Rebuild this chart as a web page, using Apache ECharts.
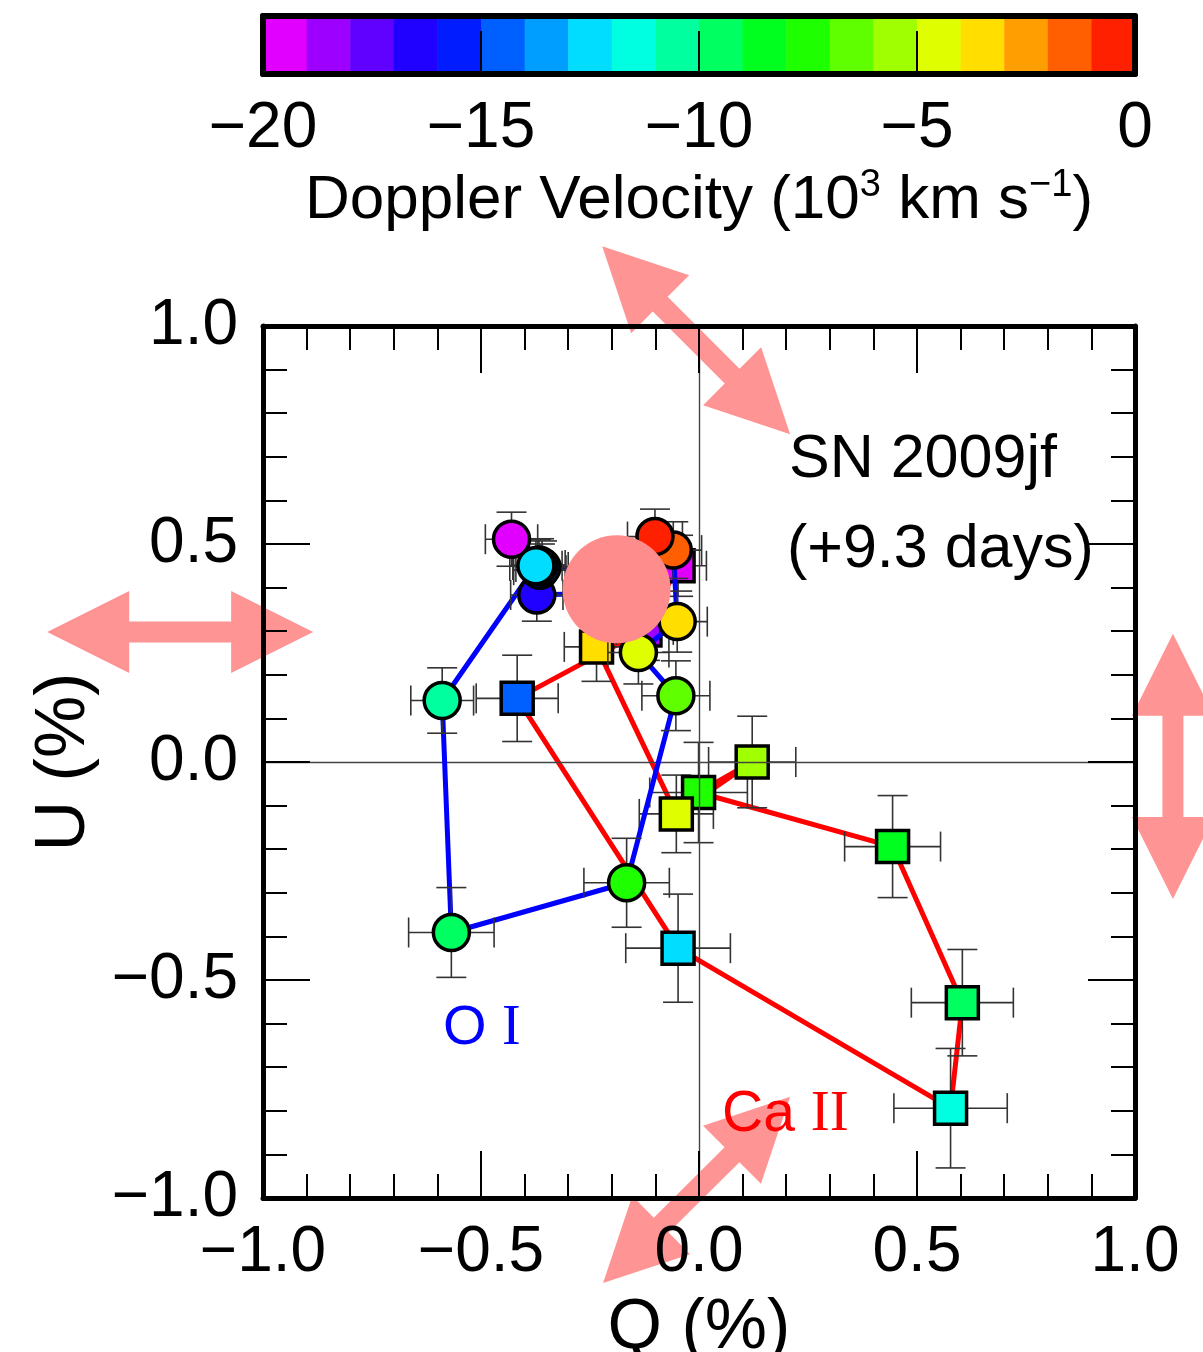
<!DOCTYPE html>
<html><head><meta charset="utf-8">
<script src="https://cdn.jsdelivr.net/npm/echarts@6.0.0/dist/echarts.min.js"></script>
<style>html,body{margin:0;padding:0;background:#fff}#c{width:1203px;height:1352px}</style>
</head><body><div id="c"></div>
<script>
const FONT = '"Liberation Sans", Arial, Helvetica, sans-serif';
const SERIF = '"Liberation Serif", "Times New Roman", serif';

// ---- colour bar (Doppler velocity, 10^3 km/s) ----
const colorbarEdges = [-20,-19,-18,-17,-16,-15,-14,-13,-12,-11,-10,-9,-8,-7,-6,-5,-4,-3,-2,-1,0];
const colorbarColors = ['#e100ff','#9d00ff','#6000ff','#2000ff','#001cff','#0060ff','#009eff','#00ddff','#00ffe0','#00ff9f',
                        '#00ff60','#00ff1e','#1eff00','#5fff00','#a0ff00','#dfff00','#ffde00','#ff9e00','#ff5f00','#ff2000'];
const velocityTicks = [-20,-15,-10,-5,0];
const quTicks = [-1.0,-0.5,0.0,0.5,1.0];

// ---- O I (circles) ----
const oiVelocity = [-19.5,-18.5,-16.5,-15.5,-14.5,-13.5,-12.5,-10.5,-9.5,-7.5,-6.5,-4.5,-3.5,-1.5,-0.5];
const oiQ    = [-0.430,-0.200,-0.372,-0.365,-0.360,-0.367,-0.374,-0.589,-0.568,-0.166,-0.053,-0.139,-0.050,-0.059,-0.101];
const oiU    = [ 0.511, 0.388, 0.383, 0.440, 0.447, 0.452, 0.450, 0.141,-0.391,-0.277, 0.152, 0.251, 0.322, 0.486, 0.517];
const oiQErr = [ 0.060, 0.060, 0.060, 0.060, 0.060, 0.060, 0.060, 0.072, 0.098, 0.098, 0.078, 0.070, 0.069, 0.065, 0.063];
const oiUErr = [ 0.062, 0.060, 0.060, 0.060, 0.060, 0.060, 0.060, 0.075, 0.103, 0.102, 0.080, 0.072, 0.070, 0.065, 0.063];

// ---- Ca II (squares) ----
const caVelocity = [-19.5,-18.5,-14.5,-12.5,-11.5,-9.5,-8.5,-7.5,-5.5,-4.5,-3.5];
const caQ    = [-0.048,-0.124,-0.417,-0.048, 0.577, 0.604, 0.444,-0.001, 0.122,-0.052,-0.235];
const caU    = [ 0.450, 0.303, 0.146,-0.427,-0.794,-0.552,-0.194,-0.070, 0.000,-0.119, 0.264];
const caQErr = [ 0.065, 0.065, 0.094, 0.120, 0.130, 0.117, 0.110, 0.112, 0.100, 0.085, 0.074];
const caUErr = [ 0.070, 0.070, 0.099, 0.124, 0.137, 0.122, 0.117, 0.115, 0.105, 0.089, 0.079];

// ---- interstellar polarization marker ----
const ispQ = [-0.189];
const ispU = [0.396];

// ---- polarization-angle arrows (ends in Q/U units) ----
const angleArrows = [
  [[-0.222, 1.183], [0.209, 0.752]],
  [[-1.495, 0.298], [-0.885, 0.298]],
  [[1.087, 0.294], [1.087, -0.314]],
  [[-0.220, -1.195], [0.209, -0.768]]
];

function velColor(v) {
  let i = Math.floor(v - colorbarEdges[0]);
  i = Math.max(0, Math.min(colorbarColors.length - 1, i));
  return colorbarColors[i];
}
function fmt1(v) { return (v < 0 ? '\u2212' : '') + Math.abs(v).toFixed(1); }
function fmt0(v) { return (v < 0 ? '\u2212' : '') + Math.abs(v).toFixed(0); }

const chart = echarts.init(document.getElementById('c'), null, {renderer: 'canvas'});

const axisLineStyle = {color: '#000', width: 5};
const tickStyle = {color: '#000', width: 2};
const labelStyle = {fontSize: 64, fontFamily: FONT, color: '#000'};
const nameStyle = {fontSize: 70, fontFamily: FONT, color: '#000'};

function mainX(pos, showLabel) {
  return {
    gridIndex: 0, type: 'value', min: -1, max: 1, interval: 0.5, position: pos, z: 20,
    axisLine: {show: true, onZero: false, lineStyle: axisLineStyle},
    axisTick: {show: true, inside: true, length: 47, lineStyle: tickStyle},
    minorTick: {show: true, splitNumber: 5, length: 24, lineStyle: tickStyle},
    splitLine: {show: false},
    axisLabel: Object.assign({show: showLabel, margin: 23, formatter: fmt1, showMinLabel: true, showMaxLabel: true}, labelStyle),
    name: showLabel ? 'Q (%)' : '', nameLocation: 'middle', nameGap: 96,
    nameTextStyle: nameStyle
  };
}
function mainY(pos, showLabel) {
  return {
    gridIndex: 0, type: 'value', min: -1, max: 1, interval: 0.5, position: pos, z: 20,
    axisLine: {show: true, onZero: false, lineStyle: axisLineStyle},
    axisTick: {show: true, inside: true, length: 47, lineStyle: tickStyle},
    minorTick: {show: true, splitNumber: 5, length: 24, lineStyle: tickStyle},
    splitLine: {show: false},
    axisLabel: Object.assign({show: showLabel, margin: 25, formatter: fmt1, showMinLabel: true, showMaxLabel: true}, labelStyle),
    name: showLabel ? 'U (%)' : '', nameLocation: 'middle', nameGap: 163,
    nameTextStyle: nameStyle
  };
}

function errorBars(q, u, qe, ue, z) {
  return {
    type: 'custom', xAxisIndex: 0, yAxisIndex: 0, z: z, silent: true,
    encode: {x: 0, y: 1},
    data: q.map((v, i) => [v, u[i], qe[i], ue[i]]),
    renderItem: function (params, api) {
      const x = api.value(0), y = api.value(1), ex = api.value(2), ey = api.value(3);
      const c = api.coord([x, y]);
      const l = api.coord([x - ex, y]), r = api.coord([x + ex, y]);
      const t = api.coord([x, y + ey]), b = api.coord([x, y - ey]);
      const cap = 15;
      const st = {stroke: '#333', lineWidth: 1.6, fill: null};
      const ln = (x1, y1, x2, y2) => ({type: 'line', shape: {x1, y1, x2, y2}, style: st});
      return {type: 'group', children: [
        ln(l[0], c[1], r[0], c[1]), ln(c[0], t[1], c[0], b[1]),
        ln(l[0], c[1] - cap, l[0], c[1] + cap), ln(r[0], c[1] - cap, r[0], c[1] + cap),
        ln(c[0] - cap, t[1], c[0] + cap, t[1]), ln(c[0] - cap, b[1], c[0] + cap, b[1])
      ]};
    }
  };
}

const option = {
  animation: false,
  backgroundColor: '#fff',
  grid: [
    {left: 263, top: 326, width: 872, height: 872, containLabel: false, outerBoundsMode: 'none'},
    {left: 263, top: 16, width: 872, height: 58, containLabel: false, outerBoundsMode: 'none'}
  ],
  xAxis: [
    mainX('bottom', true),
    mainX('top', false),
    {
      gridIndex: 1, type: 'value', min: -20, max: 0, interval: 5, position: 'bottom', z: 20,
      axisLine: {show: true, onZero: false, lineStyle: {color: '#000', width: 6}},
      axisTick: {show: true, inside: true, length: 43, lineStyle: tickStyle},
      splitLine: {show: false},
      axisLabel: Object.assign({margin: 23, formatter: fmt0, showMinLabel: true, showMaxLabel: true}, labelStyle)
    },
    {
      gridIndex: 1, type: 'value', min: -20, max: 0, position: 'top', z: 20,
      axisLine: {show: true, onZero: false, lineStyle: {color: '#000', width: 6}},
      axisTick: {show: false}, axisLabel: {show: false}, splitLine: {show: false}
    }
  ],
  yAxis: [
    mainY('left', true),
    mainY('right', false),
    {
      gridIndex: 1, type: 'value', min: 0, max: 1, position: 'left', z: 20,
      axisLine: {show: true, onZero: false, lineStyle: {color: '#000', width: 6}},
      axisTick: {show: false}, axisLabel: {show: false}, splitLine: {show: false}
    },
    {
      gridIndex: 1, type: 'value', min: 0, max: 1, position: 'right', z: 20,
      axisLine: {show: true, onZero: false, lineStyle: {color: '#000', width: 6}},
      axisTick: {show: false}, axisLabel: {show: false}, splitLine: {show: false}
    }
  ],
  series: [
    {
      type: 'custom', xAxisIndex: 2, yAxisIndex: 2, z: 2, silent: true,
      encode: {x: [0, 1], y: 2},
      data: colorbarColors.map((c, i) => [colorbarEdges[i], colorbarEdges[i + 1], i]),
      renderItem: function (params, api) {
        const a = api.coord([api.value(0), 1]);
        const b = api.coord([api.value(1), 0]);
        return {type: 'rect', shape: {x: a[0], y: a[1], width: b[0] - a[0] + 0.5, height: b[1] - a[1]},
                style: {fill: colorbarColors[api.value(2)]}};
      }
    },
    {
      name: 'Ca II path', type: 'line', xAxisIndex: 0, yAxisIndex: 0, z: 2,
      data: caQ.map((q, i) => [q, caU[i]]),
      showSymbol: false, symbol: 'none',
      lineStyle: {color: '#ff0000', width: 5},
      markLine: {
        silent: true, symbol: ['none', 'none'], label: {show: false},
        lineStyle: {color: '#444', width: 1.4, type: 'solid'},
        data: [{xAxis: 0}, {yAxis: 0}]
      }
    },
    errorBars(caQ, caU, caQErr, caUErr, 3),
    {
      name: 'Ca II', type: 'scatter', xAxisIndex: 0, yAxisIndex: 0, z: 4,
      symbol: 'rect', symbolSize: 32,
      data: caQ.map((q, i) => ({value: [q, caU[i]], itemStyle: {color: velColor(caVelocity[i])}})),
      itemStyle: {borderColor: '#000', borderWidth: 3.5, opacity: 1}
    },
    {
      name: 'O I path', type: 'line', xAxisIndex: 0, yAxisIndex: 0, z: 5,
      data: oiQ.map((q, i) => [q, oiU[i]]),
      showSymbol: false, symbol: 'none',
      lineStyle: {color: '#0000ff', width: 5}
    },
    errorBars(oiQ, oiU, oiQErr, oiUErr, 6),
    {
      name: 'O I', type: 'scatter', xAxisIndex: 0, yAxisIndex: 0, z: 7,
      symbol: 'circle', symbolSize: 36,
      data: oiQ.map((q, i) => ({value: [q, oiU[i]], itemStyle: {color: velColor(oiVelocity[i])}})),
      itemStyle: {borderColor: '#000', borderWidth: 3.5, opacity: 1}
    },
    {
      name: 'ISP', type: 'scatter', xAxisIndex: 0, yAxisIndex: 0, z: 9,
      symbol: 'circle', symbolSize: 108,
      data: ispQ.map((q, i) => [q, ispU[i]]),
      itemStyle: {color: '#ff8c8c', opacity: 1}
    }
  ]
};
chart.setOption(option);

function arrowPolygon(p1, p2) {
  const dx = p2[0] - p1[0], dy = p2[1] - p1[1];
  const L = Math.hypot(dx, dy);
  const ux = dx / L, uy = dy / L, nx = -uy, ny = ux;
  const H = 82, W = 41, w = 10.5;
  const P = (p, s, t) => [p[0] + ux * s + nx * t, p[1] + uy * s + ny * t];
  return [p1, P(p1, H, W), P(p1, H, w), P(p2, -H, w), P(p2, -H, W), p2,
          P(p2, -H, -W), P(p2, -H, -w), P(p1, H, -w), P(p1, H, -W)];
}
const graphics = angleArrows.map(a => {
  const p1 = chart.convertToPixel({xAxisIndex: 0, yAxisIndex: 0}, a[0]);
  const p2 = chart.convertToPixel({xAxisIndex: 0, yAxisIndex: 0}, a[1]);
  return {type: 'polygon', z: 15, silent: true, shape: {points: arrowPolygon(p1, p2)}, style: {fill: '#ff9494'}};
});
graphics.push(
  {type: 'text', z: 30, x: 699, y: 201, style: {
    text: '{a|Doppler Velocity (10}{s|3}{a| km s}{s|\u22121}{a|)}',
    align: 'center', verticalAlign: 'middle',
    rich: {
      a: {fontSize: 62, fontFamily: FONT, fill: '#000', verticalAlign: 'middle', lineHeight: 68},
      s: {fontSize: 38, fontFamily: FONT, fill: '#000', verticalAlign: 'top', lineHeight: 68}
    }}},
  {type: 'text', z: 30, x: 789, y: 460, style: {text: 'SN 2009jf', font: '61px ' + FONT, fill: '#000', align: 'left', verticalAlign: 'middle'}},
  {type: 'text', z: 30, x: 787, y: 550, style: {text: '(+9.3 days)', font: '61px ' + FONT, fill: '#000', align: 'left', verticalAlign: 'middle'}},
  {type: 'text', z: 30, x: 443, y: 1029, style: {
    text: '{s|O }{r|I}', align: 'left', verticalAlign: 'middle',
    rich: {s: {fontSize: 56, fontFamily: FONT, fill: '#0000ff'}, r: {fontSize: 56, fontFamily: SERIF, fill: '#0000ff'}}}},
  {type: 'text', z: 30, x: 722, y: 1115, style: {
    text: '{s|Ca }{r|II}', align: 'left', verticalAlign: 'middle',
    rich: {s: {fontSize: 57, fontFamily: FONT, fill: '#ff0000'}, r: {fontSize: 57, fontFamily: SERIF, fill: '#ff0000'}}}}
);
chart.setOption({graphic: graphics});
</script>
</body></html>
